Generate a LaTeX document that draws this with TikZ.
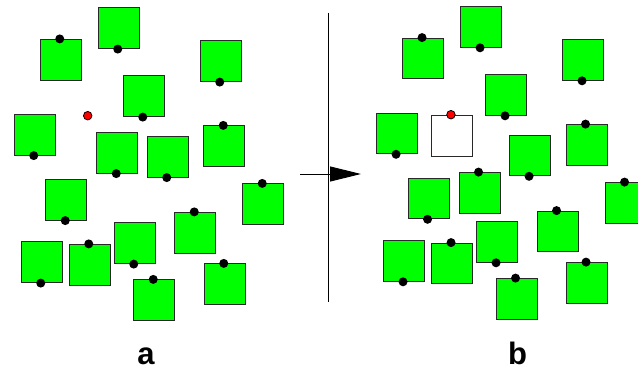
\documentclass[tikz,border=0pt]{standalone}
\usepackage{fontspec}
\setmainfont{Liberation Sans}
\usetikzlibrary{arrows.meta}
\definecolor{tilegreen}{RGB}{0,255,0}
\definecolor{tileedge}{RGB}{40,40,40}
\begin{document}
\begin{tikzpicture}[x=1pt,y=-1pt,
  tile/.style={draw=tileedge,line width=0.9pt,fill=tilegreen,minimum size=40.8pt,inner sep=0pt,anchor=north west},
  emptytile/.style={tile,fill=white},
  ball/.style={circle,fill=black,minimum size=9pt,inner sep=0pt},
  redball/.style={circle,draw=black,line width=0.8pt,fill=red,minimum size=8.5pt,inner sep=0pt},
  panellabel/.style={font=\bfseries\fontsize{31}{31}\selectfont,anchor=base,inner sep=0pt}]
\useasboundingbox (0,0) rectangle (638,369);

% left configuration: tiles with a ball on their top or bottom edge
\foreach \i/\x/\y/\s in {1/39.5/38.5/north, 2/97.5/7/south, 3/199.5/40/south,
    4/122.5/75/south, 5/13.5/113.5/south, 7/96/131.5/south, 8/146.5/135.5/south,
    9/203/125/north, 10/45/178.5/south, 11/242/183/north, 12/174/211.5/north,
    13/113.5/222/south, 14/20.5/241/south, 15/68.5/243.5/north,
    16/203.5/263/north, 17/133/279/north} {
  \node[tile] (a\i) at (\x+0.4,\y+0.4) {};
  \node[ball] (ad\i) at ([xshift=-1pt]a\i.\s) {};
}
\node[redball] (ared) at (87.7,115.7) {};

% right configuration: same tiles, tile 7 flipped below its ball,
% and a new empty tile hung under the red ball
\foreach \i/\x/\y/\s in {1/39.5/38.5/north, 2/97.5/7/south, 3/199.5/40/south,
    4/122.5/75/south, 5/13.5/113.5/south, 7/96/173/north, 8/146.5/135.5/south,
    9/203/125/north, 10/45/178.5/south, 11/242/183/north, 12/174/211.5/north,
    13/113.5/222/south, 14/20.5/241/south, 15/68.5/243.5/north,
    16/203.5/263/north, 17/133/279/north} {
  \node[tile] (b\i) at (\x+362.7,\y-0.9) {};
  \node[ball] (bd\i) at ([xshift=-1pt]b\i.\s) {};
}
\node[emptytile] (bnew) at (431.1,114.7) {};
\node[redball] (bred) at ([xshift=-1pt]bnew.north) {};

% divider and transition arrow
\coordinate (divtop) at (328,13);
\coordinate (divbot) at (328,302);
\draw[line width=1pt] (divtop) -- (divbot);
\coordinate (arrfrom) at (300,174);
\coordinate (arrto) at (361,174);
\draw[line width=1pt,-{Triangle[length=31pt,width=15pt]}] (arrfrom) -- (arrto);

% panel labels
\node[panellabel] (la) at (146,364) {a};
\node[panellabel] (lb) at (517.5,364) {b};
\end{tikzpicture}
\end{document}
